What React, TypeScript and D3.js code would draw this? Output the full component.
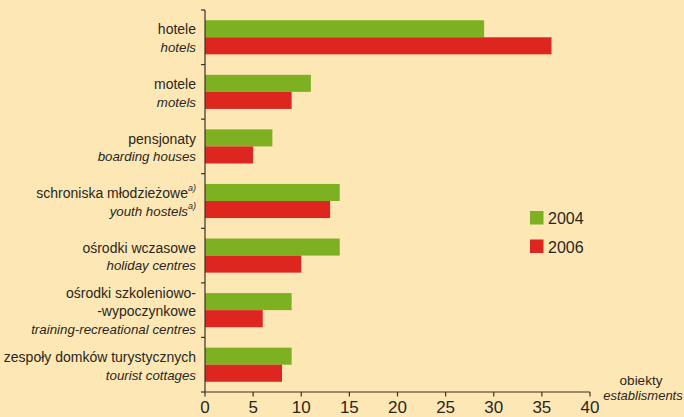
import React from "react";
import * as d3 from "d3";

const categories = ["hotele", "motele", "pensjonaty", "schroniska", "wczasowe", "szkoleniowe", "domki"];
const labelPl: string[][] = [
  ["hotele"],
  ["motele"],
  ["pensjonaty"],
  ["schroniska młodzieżowe"],
  ["ośrodki wczasowe"],
  ["ośrodki szkoleniowo-", "-wypoczynkowe"],
  ["zespoły domków turystycznych"],
];
const labelEn = [
  "hotels",
  "motels",
  "boarding houses",
  "youth hostels",
  "holiday centres",
  "training-recreational centres",
  "tourist cottages",
];
const footnote = [false, false, false, true, false, false, false];
const seriesNames = ["2004", "2006"];
const values2004 = [29, 11, 7, 14, 14, 9, 9];
const values2006 = [36, 9, 5, 13, 10, 6, 8];
const xTicks = [0, 5, 10, 15, 20, 25, 30, 35, 40];

const W = 684;
const H = 417;
const BG = "#fde7b5";
const GREEN = "#7db122";
const RED = "#dc261f";
const AXIS = "#3b3024";
const FONT = "'Liberation Sans', Arial, Helvetica, sans-serif";

export default function App() {
  const x = d3.scaleLinear().domain([0, 40]).range([205, 590]);
  const y = d3.scaleBand<string>().domain(categories).range([10, 392]).padding(0);
  const sub = d3
    .scaleBand<string>()
    .domain(seriesNames)
    .range([0, y.bandwidth()])
    .paddingInner(0)
    .paddingOuter(0.6);
  const colors = d3.scaleOrdinal<string, string>().domain(seriesNames).range([GREEN, RED]);
  const series = [values2004, values2006];
  const lineH = 17.8;
  const labelX = 196;

  return (
    <svg
      width={W}
      height={H}
      style={{ position: "absolute", left: 0, top: 0, background: BG }}
      fontFamily={FONT}
    >
      <rect x={0} y={0} width={W} height={H} fill={BG} />
      {/* bars */}
      {categories.map((c, i) =>
        seriesNames.map((s, j) => (
          <rect
            key={c + s}
            x={x(0)}
            y={(y(c) as number) + (sub(s) as number)}
            width={x(series[j][i]) - x(0)}
            height={sub.bandwidth()}
            fill={colors(s)}
          />
        ))
      )}
      {/* y axis */}
      <line x1={x(0)} x2={x(0)} y1={y.range()[0]} y2={y.range()[1]} stroke={AXIS} strokeWidth={1.2} />
      {[...categories.map((c) => y(c) as number), y.range()[1]].map((v, i) => (
        <line key={"yt" + i} x1={x(0) - 4} x2={x(0)} y1={v} y2={v} stroke={AXIS} strokeWidth={1.2} />
      ))}
      {/* x axis */}
      <line x1={x(0)} x2={x(40)} y1={y.range()[1]} y2={y.range()[1]} stroke={AXIS} strokeWidth={1.2} />
      {xTicks.map((t) => (
        <g key={"xt" + t}>
          <line x1={x(t)} x2={x(t)} y1={y.range()[1]} y2={y.range()[1] + 4.5} stroke={AXIS} strokeWidth={1.2} />
          <text x={x(t)} y={413} textAnchor="middle" fontSize={17} fill="#2b2620">
            {t}
          </text>
        </g>
      ))}
      {/* category labels */}
      {categories.map((c, i) => {
        const lines = labelPl[i].length + 1;
        const center = (y(c) as number) + y.bandwidth() / 2;
        const first = center + 6 - ((lines - 1) * lineH) / 2;
        return (
          <g key={"lab" + c} fill="#2b2620">
            {labelPl[i].map((l, k) => (
              <text key={k} x={labelX} y={first + k * lineH} textAnchor="end" fontSize={14}>
                {l}
                {footnote[i] && (
                  <tspan fontSize={9} fontStyle="italic" dy={-7}>
                    a)
                  </tspan>
                )}
              </text>
            ))}
            <text
              x={labelX}
              y={first + labelPl[i].length * lineH}
              textAnchor="end"
              fontSize={13.3}
              fontStyle="italic"
            >
              {labelEn[i]}
              {footnote[i] && (
                <tspan fontSize={9} dy={-7}>
                  a)
                </tspan>
              )}
            </text>
          </g>
        );
      })}
      {/* legend */}
      {seriesNames.map((s, j) => (
        <g key={"lg" + s}>
          <rect x={530} y={211 + j * 28.5} width={13.5} height={13.5} fill={colors(s)} />
          <text x={548} y={224 + j * 28.5} fontSize={16} fill="#2b2620">
            {s}
          </text>
        </g>
      ))}
      {/* unit label */}
      <text x={641} y={385} textAnchor="middle" fontSize={13.5} fill="#2b2620">
        obiekty
      </text>
      <text x={643} y={400} textAnchor="middle" fontSize={13} fontStyle="italic" fill="#2b2620">
        establisments
      </text>
    </svg>
  );
}
